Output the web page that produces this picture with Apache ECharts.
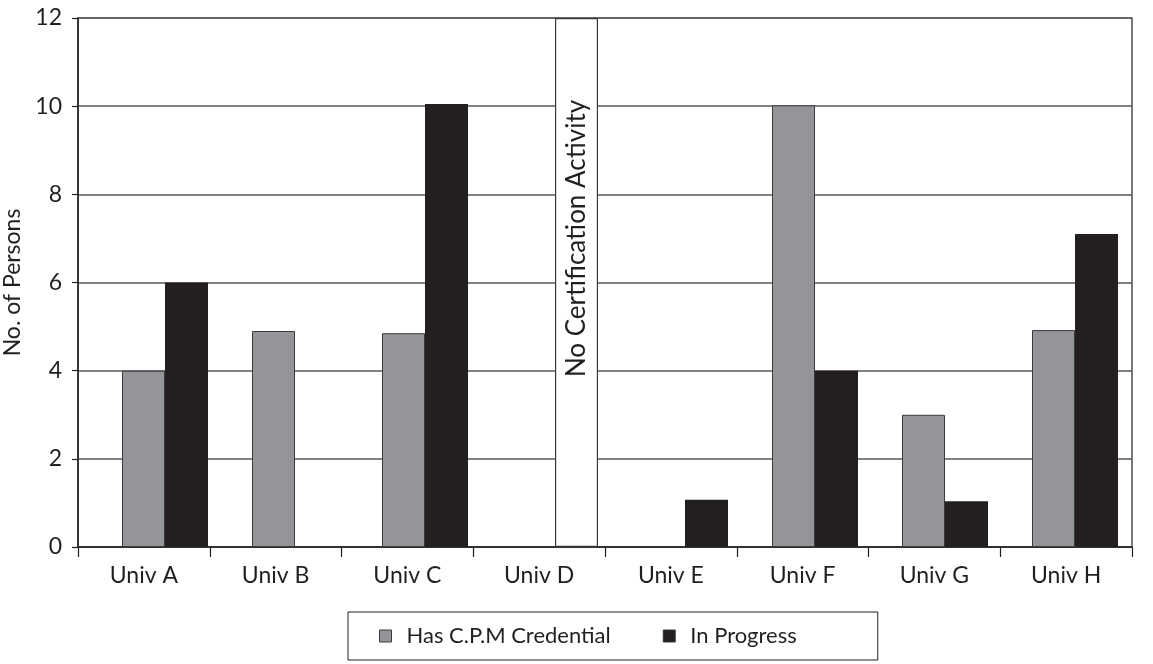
<!DOCTYPE html>
<html>
<head>
<meta charset="utf-8">
<title>C.P.M Certification by University</title>
<script src="https://cdn.jsdelivr.net/npm/echarts@6/dist/echarts.min.js"></script>
<style>
  html, body { margin: 0; padding: 0; background: #fff; }
  #chart { width: 1153px; height: 664px; }
</style>
</head>
<body>
<div id="chart"></div>
<script>
// Universities along the horizontal axis
const universities = ['Univ A', 'Univ B', 'Univ C', 'Univ D', 'Univ E', 'Univ F', 'Univ G', 'Univ H'];

// Number of persons holding the credential / currently working toward it
const hasCredential = [4, 4.9, 4.85, null, null, 10.02, 3, 4.92];
const inProgress = [6, null, 10.05, null, 1.07, 4, 1.04, 7.1];

// Univ D reported no certification activity: a full-height placeholder column
const noActivity = [null, null, null, 12, null, null, null, null];

// Vertical axis scale
const yMin = 0;
const yMax = 12;
const yStep = 2;

const ink = '#231f20';
const grey = '#939598';
const font = 'Lato';

const chart = echarts.init(document.getElementById('chart'));

chart.setOption({
  animation: false,
  backgroundColor: '#ffffff',
  textStyle: { fontFamily: font, color: ink },
  grid: [
    {
      left: 78, right: 21, top: 18, bottom: 117,
      containLabel: false, outerBoundsMode: 'none',
      show: true, borderColor: ink, borderWidth: 1.2, backgroundColor: 'transparent'
    },
    {
      left: 100, right: 13, top: 18, bottom: 117,
      containLabel: false, outerBoundsMode: 'none'
    }
  ],
  legend: {
    data: ['Has C.P.M Credential', 'In Progress'],
    left: 348,
    top: 612,
    orient: 'horizontal',
    itemWidth: 12,
    itemHeight: 12,
    itemGap: 52,
    padding: [13, 81, 13, 31],
    borderColor: ink,
    borderWidth: 1,
    icon: 'rect',
    itemStyle: { borderColor: '#3a3a3c', borderWidth: 1 },
    textStyle: { fontFamily: font, fontSize: 22, color: ink, padding: [0, 0, 0, 10] }
  },
  xAxis: [
    {
      type: 'category',
      gridIndex: 0,
      data: universities,
      boundaryGap: true,
      axisLine: { show: true, lineStyle: { color: ink, width: 1.5 } },
      axisTick: { show: true, length: 10, interval: 0, lineStyle: { color: ink, width: 1.2 } },
      axisLabel: { interval: 0, margin: 17, fontSize: 23, color: ink, fontFamily: font }
    },
    {
      type: 'category',
      gridIndex: 1,
      data: universities,
      show: false
    }
  ],
  yAxis: [
    {
      type: 'value',
      gridIndex: 0,
      min: yMin,
      max: yMax,
      interval: yStep,
      name: 'No. of Persons',
      nameLocation: 'middle',
      nameGap: 49,
      nameRotate: 90,
      nameTextStyle: { fontSize: 23, color: ink, fontFamily: font },
      axisLine: { show: true, lineStyle: { color: ink, width: 1.5 } },
      axisTick: { show: true, length: 6, inside: false, lineStyle: { color: ink, width: 1.2 } },
      axisLabel: { margin: 16, fontSize: 23, color: ink, fontFamily: font },
      splitLine: { show: true, lineStyle: { color: '#58595b', width: 1.5 } }
    },
    {
      type: 'value',
      gridIndex: 1,
      min: yMin,
      max: yMax,
      interval: yStep,
      show: false,
      splitLine: { show: false }
    }
  ],
  series: [
    {
      name: 'Has C.P.M Credential',
      type: 'bar',
      xAxisIndex: 1,
      yAxisIndex: 1,
      data: hasCredential,
      barWidth: 43,
      barGap: '0%',
      itemStyle: { color: grey, borderColor: '#3a3a3c', borderWidth: 1 }
    },
    {
      name: 'In Progress',
      type: 'bar',
      xAxisIndex: 1,
      yAxisIndex: 1,
      stack: 'progress',
      data: inProgress,
      barWidth: 43,
      barGap: '0%',
      itemStyle: { color: ink }
    },
    {
      name: 'No Certification Activity',
      type: 'bar',
      xAxisIndex: 1,
      yAxisIndex: 1,
      stack: 'progress',
      data: noActivity,
      barWidth: 43,
      barGap: '0%',
      itemStyle: { color: '#ffffff', borderColor: '#3a3a3c', borderWidth: 1.2 },
      label: {
        show: true,
        position: 'inside',
        rotate: 90,
        offset: [44, 0],
        formatter: 'No Certification Activity',
        fontSize: 26,
        fontFamily: font,
        color: ink
      }
    }
  ]
});
</script>
</body>
</html>
